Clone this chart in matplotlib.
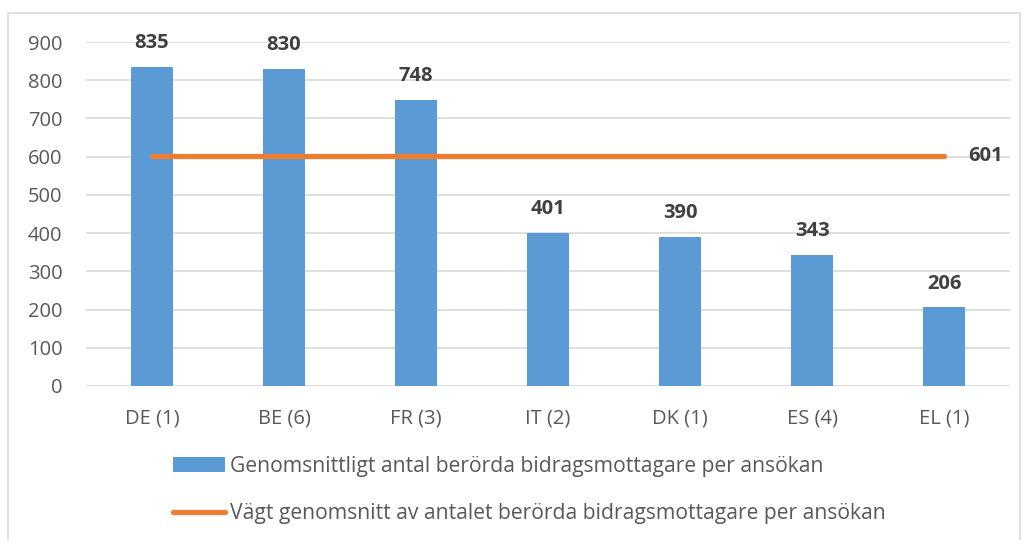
import matplotlib
matplotlib.use('Agg')
import matplotlib.pyplot as plt
from matplotlib.patches import Rectangle, Patch
from matplotlib.lines import Line2D

countries = ['DE (1)', 'BE (6)', 'FR (3)', 'IT (2)', 'DK (1)', 'ES (4)', 'EL (1)']
beneficiaries = [835, 830, 748, 401, 390, 343, 206]
weighted_avg = 601

bar_label = 'Genomsnittligt antal berörda bidragsmottagare per ansökan'
line_label = 'Vägt genomsnitt av antalet berörda bidragsmottagare per ansökan'

plt.rcParams['font.family'] = ['Open Sans', 'DejaVu Sans']
txt_color = '#595959'
fs = 14.5

fig = plt.figure(figsize=(10.25, 5.4), dpi=100)
ax = fig.add_axes([0.0839, 0.2852, 0.9015, 0.637])

x = list(range(len(countries)))
ax.bar(x, beneficiaries, width=0.32, color='#5B9BD5', zorder=2)
ax.plot([x[0], x[-1]], [weighted_avg, weighted_avg], color='#ED7D31',
        linewidth=3.8, solid_capstyle='round', zorder=3)

for xi, v in zip(x, beneficiaries):
    ax.annotate(str(v), (xi, v), xytext=(0, 17), textcoords='offset points',
                ha='center', va='center', fontsize=fs, fontweight='bold', color='#404040')
ax.annotate(str(weighted_avg), (x[-1], weighted_avg), xytext=(30, 0),
            textcoords='offset points', ha='center', va='center',
            fontsize=fs, fontweight='bold', color='#404040')

ax.set_xlim(-0.5, len(countries) - 0.5)
ax.set_ylim(0, 900)
ax.set_yticks(range(0, 901, 100))
ax.set_xticks(x)
ax.set_xticklabels(countries)
ax.tick_params(axis='both', length=0, labelsize=fs, colors=txt_color)
ax.tick_params(axis='x', pad=16)
ax.tick_params(axis='y', pad=17)
ax.grid(axis='y', color='#d9d9d9', linewidth=1.2, zorder=0)
ax.set_axisbelow(True)
for s in ax.spines.values():
    s.set_visible(False)

handles = [Patch(facecolor='#5B9BD5', label=bar_label),
           Line2D([0], [0], color='#ED7D31', linewidth=3.8,
                  solid_capstyle='round', label=line_label)]
fig.legend(handles=handles, loc='center', bbox_to_anchor=(0.516, 0.0926),
           frameon=False, fontsize=15.2, labelcolor=txt_color,
           handlelength=2.5, handletextpad=0.2, labelspacing=1.25)

fig.patches.append(Rectangle((8 / 1025, -0.01), 1012 / 1025, 1 - 13 / 540 + 0.01,
                             transform=fig.transFigure, fill=False,
                             edgecolor='#d9d9d9', linewidth=1.2))

fig.savefig('out.png', dpi=100)
